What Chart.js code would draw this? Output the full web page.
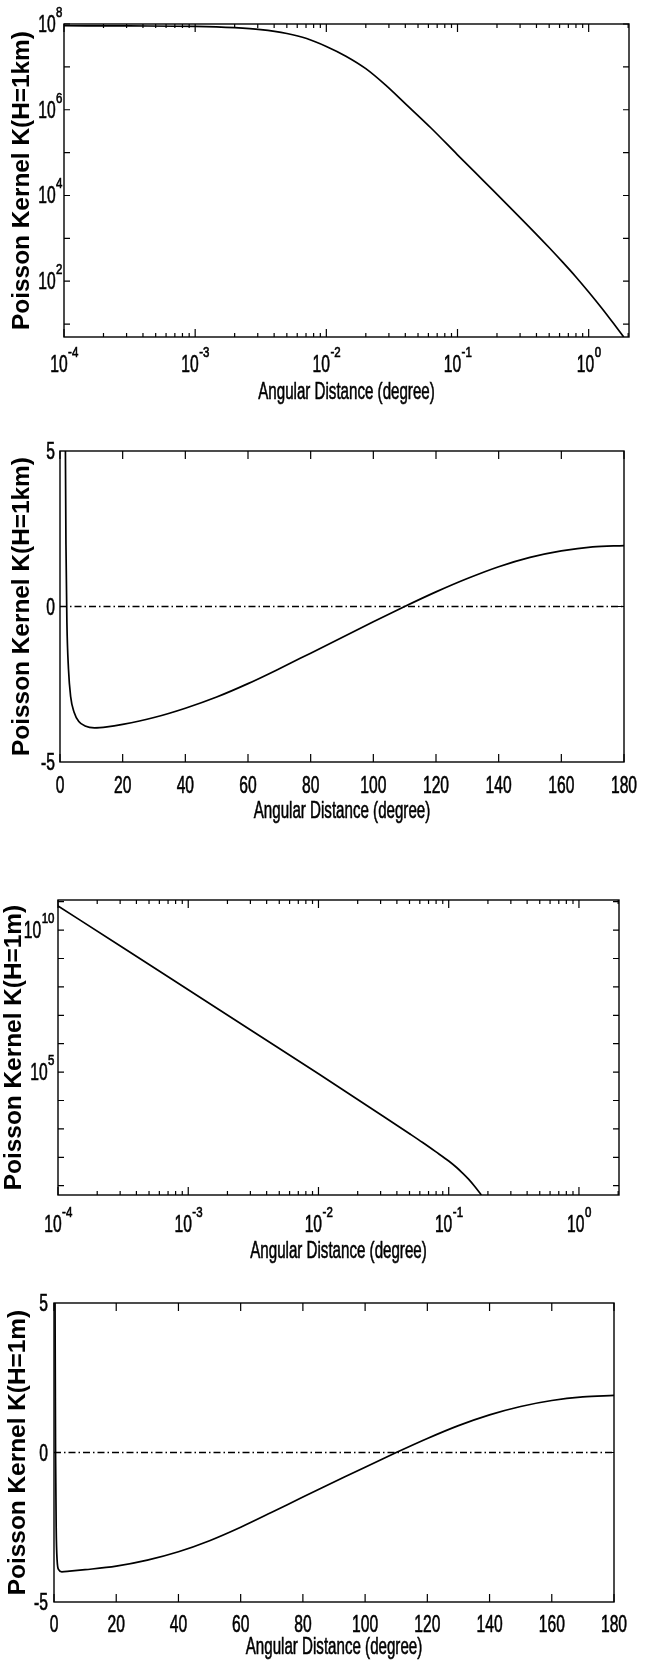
<!DOCTYPE html>
<html>
<head>
<meta charset="utf-8">
<script src="https://cdn.jsdelivr.net/npm/chart.js@4.4.1/dist/chart.umd.min.js"></script>
<style>
  body { margin: 0; background: #fff; }
  #page { position: relative; width: 647px; height: 1661px; }
  canvas { position: absolute; left: 0; }
</style>
</head>
<body>
<div id="page">
  <canvas id="c1" width="647" height="410" style="top:0px"></canvas>
  <canvas id="c2" width="647" height="410" style="top:420px"></canvas>
  <canvas id="c3" width="647" height="415" style="top:850px"></canvas>
  <canvas id="c4" width="647" height="391" style="top:1270px"></canvas>
</div>
<script>
// H = 1 km, log-log
const angleKmLog  = [0.0001, 0.000316, 0.001, 0.002, 0.00316, 0.005, 0.00708, 0.01, 0.0141, 0.02, 0.0282, 0.0398, 0.0631, 0.1, 0.158, 0.251, 0.398, 0.501, 0.631, 0.794, 1.0, 1.26, 1.58, 1.85];
const kernelKmLog = [9.1e7, 9.0e7, 8.8e7, 8.2e7, 7.4e7, 6.0e7, 4.6e7, 3.0e7, 1.78e7, 9.1e6, 3.8e6, 1.41e6, 3.7e5, 8.9e4, 2.19e4, 5.3e3, 1.26e3, 603, 282, 129, 56, 23.4, 9.5, 5.0];

// H = 1 km, linear
const angleKmLin  = [1.7, 1.9, 2.2, 2.7, 3.4, 4.5, 6, 8, 11, 15, 20, 30, 40, 50, 60, 70, 80, 90, 100, 110, 120, 130, 140, 150, 160, 170, 180];
const kernelKmLin = [5.6, 2.0, -0.5, -2.0, -2.9, -3.4, -3.7, -3.84, -3.9, -3.87, -3.79, -3.57, -3.27, -2.91, -2.48, -2.0, -1.5, -1.0, -0.49, 0.0, 0.47, 0.9, 1.28, 1.58, 1.79, 1.92, 1.96];

// H = 1 m, log-log
const angleMLog  = [0.0001, 0.000316, 0.001, 0.00316, 0.01, 0.0316, 0.0501, 0.0631, 0.0794, 0.1, 0.115, 0.126, 0.1426, 0.158, 0.178];
const kernelMLog = [7.08e10, 2.40e9, 7.94e7, 2.63e6, 8.71e4, 2.75e3, 676, 331, 158, 74, 43.7, 29.5, 16.6, 9.5, 4.7];

// H = 1 m, linear
const angleMLin  = [0.3, 0.5, 0.7, 1.0, 1.5, 2.5, 5, 10, 20, 30, 40, 50, 60, 70, 80, 90, 100, 110, 120, 130, 140, 150, 160, 170, 180];
const kernelMLin = [6, 0, -2.5, -3.6, -3.92, -3.99, -3.97, -3.92, -3.8, -3.6, -3.32, -2.95, -2.5, -2.0, -1.49, -0.99, -0.49, 0, 0.47, 0.9, 1.26, 1.54, 1.74, 1.86, 1.91];

// zero reference line
const zeroX = [0, 180];
const zeroY = [0, 0];

// tick labels
const xLogTicks = [1e-4, 1e-3, 1e-2, 1e-1, 1];
const yKmLogTicks = [1e2, 1e4, 1e6, 1e8];
const yMLogTicks = [1e5, 1e10];
const xLinTicks = [0, 20, 40, 60, 80, 100, 120, 140, 160, 180];
const yLinTicks = [-5, 0, 5];

const FONT = "'Liberation Sans', Arial, Helvetica, sans-serif";
const TICK_SIZE = 23;
const EXP_SIZE = 14;
const xTitle = 'Angular Distance (degree)';

Chart.defaults.color = '#000';
Chart.defaults.animation = false;

function decades(min, max) {
  const out = [];
  for (let e = Math.floor(Math.log10(min)); e <= Math.ceil(Math.log10(max)); e++) {
    const v = Math.pow(10, e);
    if (v >= min && v <= max) out.push(v);
  }
  return out;
}
function logMinor(min, max) {
  const out = [];
  for (let e = Math.floor(Math.log10(min)); e <= Math.ceil(Math.log10(max)); e++) {
    for (let k = 2; k <= 9; k++) {
      const v = k * Math.pow(10, e);
      if (v > min && v < max) out.push(v);
    }
  }
  return out;
}

// condensed text (squeeze = horizontal scale)
function narrowText(ctx, text, x, y, size, align, squeeze) {
  ctx.save();
  ctx.translate(x, y);
  ctx.scale(squeeze, 1);
  ctx.font = size + 'px ' + FONT;
  ctx.textAlign = align;
  ctx.textBaseline = 'alphabetic';
  ctx.lineWidth = 0.6;
  ctx.fillText(text, 0, 0);
  ctx.strokeText(text, 0, 0);
  ctx.restore();
}
function narrowWidth(ctx, text, size, squeeze) {
  ctx.save();
  ctx.font = size + 'px ' + FONT;
  const w = ctx.measureText(text).width * squeeze;
  ctx.restore();
  return w;
}
// "10" with a raised exponent
function powText(ctx, v, x, y, align) {
  const exp = String(Math.round(Math.log10(v)));
  const wMain = narrowWidth(ctx, '10', TICK_SIZE, 0.68), wExp = narrowWidth(ctx, exp, EXP_SIZE, 0.82);
  const left = align === 'center' ? x - (wMain + wExp) / 2 : x - wMain - wExp;
  narrowText(ctx, '10', left, y, TICK_SIZE, 'left', 0.68);
  narrowText(ctx, exp, left + wMain + 0.5, y - 15, EXP_SIZE, 'left', 0.82);
}

// box, inward tick marks, tick labels and x title
const framePlugin = {
  id: 'frame',
  afterDraw(chart, args, o) {
    const {ctx, chartArea: a} = chart;
    const x = chart.scales.x, y = chart.scales.y;
    ctx.save();
    ctx.strokeStyle = '#000';
    ctx.fillStyle = '#000';
    ctx.lineWidth = 1.2;
    ctx.beginPath();
    const mark = (px, py, dx, dy) => { ctx.moveTo(px, py); ctx.lineTo(px + dx, py + dy); };
    o.xTicks.forEach(v => {
      const p = x.getPixelForValue(v);
      mark(p, a.bottom, 0, -8); mark(p, a.top, 0, 8);
    });
    o.xMinor.forEach(v => {
      const p = x.getPixelForValue(v);
      mark(p, a.bottom, 0, -4); mark(p, a.top, 0, 4);
    });
    o.yMarks.forEach(v => {
      const p = y.getPixelForValue(v);
      mark(a.left, p, 6, 0); mark(a.right, p, -6, 0);
    });
    ctx.stroke();
    ctx.lineWidth = 1.4;
    ctx.strokeRect(a.left, a.top, a.width, a.height);

    o.xTicks.forEach(v => {
      const p = x.getPixelForValue(v);
      if (o.logX) powText(ctx, v, p, a.bottom + o.xLabelOff, 'center');
      else narrowText(ctx, String(v), p, a.bottom + o.xLabelOff, TICK_SIZE, 'center', 0.68);
    });
    o.yTicks.forEach(v => {
      const p = y.getPixelForValue(v);
      if (o.logY) powText(ctx, v, a.left - o.yGap, p + 8, 'right');
      else narrowText(ctx, String(v), a.left - o.yGap, p + 8, TICK_SIZE, 'right', 0.68);
    });
    narrowText(ctx, xTitle, (a.left + a.right) / 2, a.bottom + o.titleOff, 24, 'center', 0.63);
    ctx.restore();
  }
};

function pts(xs, ys) { return xs.map((v, i) => ({x: v, y: ys[i]})); }

function curve(xs, ys) {
  return {data: pts(xs, ys), borderColor: '#000', borderWidth: 1.7, pointRadius: 0,
          cubicInterpolationMode: 'monotone', fill: false};
}
function zeroLine() {
  return {data: pts(zeroX, zeroY), borderColor: '#000', borderWidth: 1.4, pointRadius: 0,
          borderDash: [7, 3, 1.5, 3], fill: false};
}

function panel(id, p) {
  const logX = p.xType === 'logarithmic';
  const logY = p.yType === 'logarithmic';
  new Chart(document.getElementById(id), {
    type: 'line',
    data: {datasets: p.datasets},
    options: {
      responsive: false,
      devicePixelRatio: 1,
      layout: {padding: {top: p.padTop, right: p.padRight, left: 0, bottom: 0}},
      plugins: {
        legend: {display: false},
        tooltip: {enabled: false},
        frame: {
          logX: logX, logY: logY,
          xTicks: p.xTicks, yTicks: p.yTicks,
          xMinor: logX ? logMinor(p.xMin, p.xMax) : [],
          yMarks: logY ? decades(p.yMin, p.yMax) : [0],
          xLabelOff: p.xLabelOff, titleOff: p.titleOff, yGap: p.yGap
        }
      },
      scales: {
        x: {
          type: p.xType, min: p.xMin, max: p.xMax,
          afterFit: s => { s.height = p.xHeight; },
          grid: {display: false, drawTicks: false},
          border: {display: false},
          ticks: {display: false}
        },
        y: {
          type: p.yType, min: p.yMin, max: p.yMax,
          afterFit: s => { s.width = p.yWidth; },
          grid: {display: false, drawTicks: false},
          border: {display: false},
          ticks: {display: false},
          title: {display: true, text: p.yTitle, font: {family: FONT, size: 24.4, weight: 'bold'},
                  padding: {top: p.yTitlePad, bottom: 0}}
        }
      }
    },
    plugins: [framePlugin]
  });
}

panel('c1', {
  xType: 'logarithmic', yType: 'logarithmic',
  xMin: 1e-4, xMax: 2.03, yMin: 5, yMax: 1e8,
  xTicks: xLogTicks, yTicks: yKmLogTicks,
  padTop: 24, padRight: 18, yWidth: 64, xHeight: 73,
  xLabelOff: 35, titleOff: 62, yGap: 2, yTitlePad: 8,
  yTitle: 'Poisson Kernel K(H=1km)',
  datasets: [curve(angleKmLog, kernelKmLog)]
});

panel('c2', {
  xType: 'linear', yType: 'linear',
  xMin: 0, xMax: 180, yMin: -5, yMax: 5,
  xTicks: xLinTicks, yTicks: yLinTicks,
  padTop: 31, padRight: 23, yWidth: 60, xHeight: 68,
  xLabelOff: 31, titleOff: 56, yGap: 5, yTitlePad: 8,
  yTitle: 'Poisson Kernel K(H=1km)',
  datasets: [curve(angleKmLin, kernelKmLin), zeroLine()]
});

panel('c3', {
  xType: 'logarithmic', yType: 'logarithmic',
  xMin: 1e-4, xMax: 2.03, yMin: 4.7, yMax: 1.15e11,
  xTicks: xLogTicks, yTicks: yMLogTicks,
  padTop: 50, padRight: 28, yWidth: 58, xHeight: 70,
  xLabelOff: 37, titleOff: 63, yGap: 4, yTitlePad: 0,
  yTitle: 'Poisson Kernel K(H=1m)',
  datasets: [curve(angleMLog, kernelMLog)]
});

panel('c4', {
  xType: 'linear', yType: 'linear',
  xMin: 0, xMax: 180, yMin: -5, yMax: 5,
  xTicks: xLinTicks, yTicks: yLinTicks,
  padTop: 33, padRight: 33, yWidth: 54, xHeight: 59,
  xLabelOff: 30, titleOff: 52, yGap: 6, yTitlePad: 4,
  yTitle: 'Poisson Kernel K(H=1m)',
  datasets: [curve(angleMLin, kernelMLin), zeroLine()]
});
</script>
</body>
</html>
